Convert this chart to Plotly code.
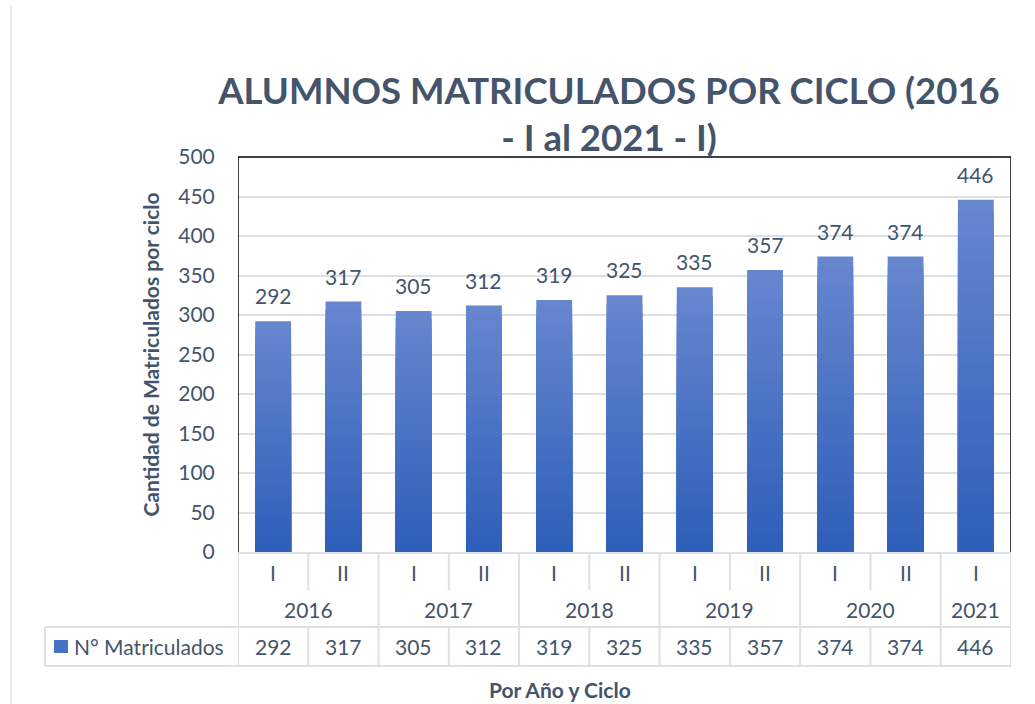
import plotly.graph_objects as go

# ---- data ----
ciclos = ["I", "II", "I", "II", "I", "II", "I", "II", "I", "II", "I"]
anios = ["2016", "2017", "2018", "2019", "2020", "2021"]
ciclos_por_anio = [2, 2, 2, 2, 2, 1]
matriculados = [292, 317, 305, 312, 319, 325, 335, 357, 374, 374, 446]
serie_nombre = "N° Matriculados"

FONT = "Lato"
TXT = "#44546A"
GRID = "#DCE0E7"
TOP = (102, 134, 206)
BOT = (46, 95, 185)
FS = 21

n = len(matriculados)
xs = list(range(n))

fig = go.Figure()

# gradient bars via overlaid layers (light at top -> dark at bottom)
N = 30
for k in range(N):
    f = 1 - k / N
    t = k / (N - 1)
    c = tuple(round(TOP[i] + (BOT[i] - TOP[i]) * t) for i in range(3))
    fig.add_trace(go.Bar(
        x=xs, y=[v * f for v in matriculados],
        width=0.51,
        marker=dict(color="rgb(%d,%d,%d)" % c, line=dict(width=0)),
        showlegend=False, hoverinfo="skip",
    ))

# plot geometry (pixels) for converting table rows to paper coords
H = 704
T, B = 157, 152
L, R = 238, 24
pw = 1035 - L - R
ph = H - T - B


def py(p):
    return (H - B - p) / ph


def px(p):
    return (p - L) / pw


shapes = []
ann = []

# data labels above bars
for i, v in enumerate(matriculados):
    ann.append(dict(x=i, y=v, xref="x", yref="y", text=str(v), showarrow=False,
                    yanchor="bottom", yshift=11,
                    font=dict(family=FONT, size=FS, color=TXT)))

# frame of plot area (black left/top/right)
blk = dict(color="black", width=1.5)
shapes += [
    dict(type="line", xref="x", yref="paper", x0=-0.5, x1=-0.5, y0=0, y1=1, line=blk),
    dict(type="line", xref="x", yref="paper", x0=-0.5, x1=n - 0.5, y0=1, y1=1, line=blk),
    dict(type="line", xref="x", yref="paper", x0=n - 0.5, x1=n - 0.5, y0=0, y1=1, line=blk),
]

# table lines
gl = dict(color=GRID, width=2)
shapes.append(dict(type="line", xref="x", yref="paper", x0=-0.5, x1=n - 0.5,
                   y0=py(553), y1=py(553), line=gl, layer="below"))
bounds = [-0.5]
acc = -0.5
for c in ciclos_por_anio:
    acc += c
    bounds.append(acc)
for i in range(n + 1):
    xb = i - 0.5
    if xb in bounds:
        shapes.append(dict(type="line", xref="x", yref="paper", x0=xb, x1=xb,
                           y0=py(553), y1=py(627), line=gl))
    else:
        shapes.append(dict(type="line", xref="x", yref="paper", x0=xb, x1=xb,
                           y0=py(553), y1=py(590), line=gl))
    shapes.append(dict(type="line", xref="x", yref="paper", x0=xb, x1=xb,
                       y0=py(627), y1=py(666), line=gl))
for yy in (627, 666):
    shapes.append(dict(type="line", xref="paper", yref="paper",
                       x0=px(45), x1=1, y0=py(yy), y1=py(yy), line=gl))
shapes.append(dict(type="line", xref="paper", yref="paper",
                   x0=px(45), x1=px(45), y0=py(627), y1=py(666), line=gl))
# legend key
shapes.append(dict(type="rect", xref="paper", yref="paper",
                   x0=px(54), x1=px(68), y0=py(653), y1=py(640),
                   fillcolor="#4472C4", line=dict(width=0)))

tf = dict(family=FONT, size=FS, color=TXT)
for i, c in enumerate(ciclos):
    ann.append(dict(x=i, y=py(572), xref="x", yref="paper", text=c,
                    showarrow=False, yanchor="middle", font=tf))
    ann.append(dict(x=i, y=py(646), xref="x", yref="paper",
                    text=str(matriculados[i]), showarrow=False,
                    yanchor="middle", font=tf))
start = 0
for a, c in zip(anios, ciclos_por_anio):
    ann.append(dict(x=start + (c - 1) / 2, y=py(609), xref="x", yref="paper",
                    text=a, showarrow=False, yanchor="middle", font=tf))
    start += c
ann.append(dict(x=px(72), y=py(646), xref="paper", yref="paper",
                text=serie_nombre, showarrow=False, xanchor="left",
                yanchor="middle", font=tf))
ann.append(dict(x=px(560), y=py(689), xref="paper", yref="paper",
                text="<b>Por Año y Ciclo</b>", showarrow=False,
                xanchor="center", yanchor="middle",
                font=dict(family=FONT, size=21, color=TXT)))

# chart frame edge at far left
shapes.append(dict(type="line", xref="paper", yref="paper",
                   x0=px(11), x1=px(11), y0=py(5), y1=py(704),
                   line=dict(color="#E3E6EC", width=1.5)))

fig.update_layout(
    width=1035, height=704,
    margin=dict(l=L, r=R, t=T, b=B),
    paper_bgcolor="white", plot_bgcolor="white",
    barmode="overlay",
    title=dict(
        text="<b>ALUMNOS MATRICULADOS POR CICLO (2016<br>- I al 2021 - I)</b>",
        x=609 / 1035, xanchor="center",
        y=(H - 104) / H, yanchor="middle",
        font=dict(family=FONT, size=36.5, color=TXT),
    ),
    xaxis=dict(range=[-0.5, n - 0.5], showticklabels=False, showgrid=False,
               zeroline=False, showline=False, ticks=""),
    yaxis=dict(range=[0, 500], dtick=50, showgrid=True, gridcolor=GRID,
               gridwidth=2, zeroline=False, showline=False,
               tickfont=dict(family=FONT, size=FS, color=TXT),
               ticks="outside", ticklen=18, tickcolor="rgba(0,0,0,0)",
               title=dict(text="<b>Cantidad de Matriculados por ciclo</b>",
                          font=dict(family=FONT, size=21, color=TXT),
                          standoff=12)),
    shapes=shapes, annotations=ann,
    showlegend=False,
)

fig.write_html("out.html", config={"displayModeBar": False},
               post_script="document.body.style.margin='0';document.body.style.overflow='hidden';")
